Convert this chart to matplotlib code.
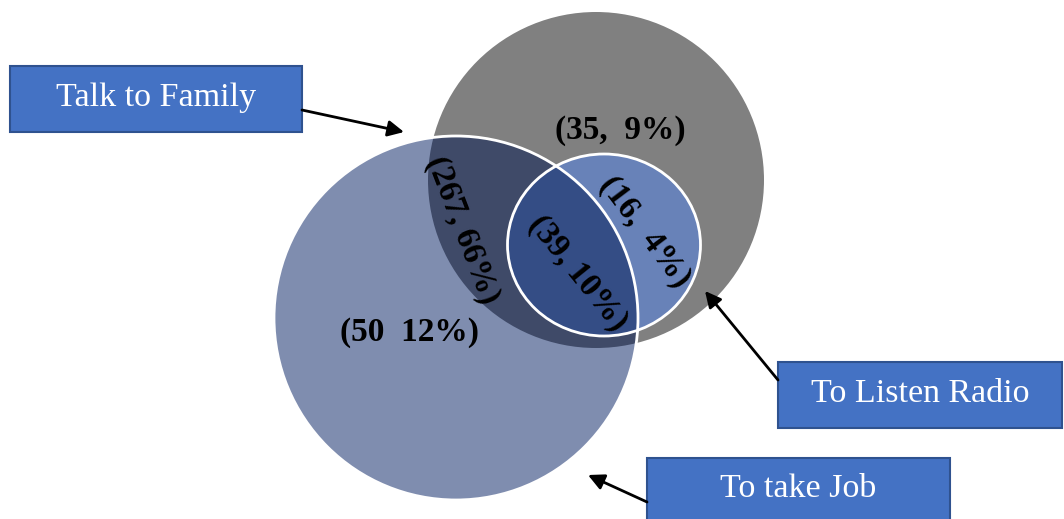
import matplotlib.pyplot as plt
from matplotlib.patches import Circle, Ellipse, Rectangle

plt.rcParams["font.family"] = ["Liberation Serif", "DejaVu Serif"]

# data
set_names = ["Talk to Family", "To Listen Radio", "To take Job"]
region_counts = [35, 16, 39, 267, 50]
region_pcts = [9, 4, 10, 66, 12]

# layout in pixel coordinates
family_c = (596, 180, 168)          # x, y, r
radio_c = (604, 245, 193, 182)      # x, y, w, h
job_c = (456, 318, 182)             # x, y, r

region_pos = [(620, 130, 0), (645, 232, -53), (578, 273, -51), (462, 230, -69), (410, 333, 0)]
region_fmt = ["({c},  {p}%)", "({c},  {p}%)", "({c}, {p}%)", "({c}, {p}%)", "({c}  {p}%)"]

boxes = {  # x0, y0, x1, y1, text y, arrow start, arrow tip
    "Talk to Family": (10, 66, 302, 132, 98, (302, 110), (404, 132)),
    "To Listen Radio": (778, 362, 1062, 428, 394, (778, 380), (705, 291)),
    "To take Job": (647, 458, 950, 540, 489, (647, 502), (588, 475)),
}

fig = plt.figure(figsize=(10.64, 5.19), dpi=100)
ax = fig.add_axes([0, 0, 1, 1])
ax.set_xlim(0, 1064)
ax.set_ylim(519, 0)
ax.set_aspect("equal")
ax.axis("off")

fam = Circle(family_c[:2], family_c[2], fc="#808080", ec="none", zorder=1)
ax.add_patch(fam)
job = Circle(job_c[:2], job_c[2], fc="#7F8DAF", ec="none", zorder=2)
ax.add_patch(job)
job_in_fam = Circle(job_c[:2], job_c[2], fc="#3F4A68", ec="none", zorder=3)
ax.add_patch(job_in_fam)
job_in_fam.set_clip_path(fam)
rad = Ellipse(radio_c[:2], radio_c[2], radio_c[3], fc="#6882B8", ec="none", zorder=4)
ax.add_patch(rad)
rad_in_job = Ellipse(radio_c[:2], radio_c[2], radio_c[3], fc="#344D85", ec="none", zorder=5)
ax.add_patch(rad_in_job)
rad_in_job.set_clip_path(job)

# white outlines
ax.add_patch(Circle(job_c[:2], job_c[2], fc="none", ec="white", lw=2, zorder=6))
ax.add_patch(Ellipse(radio_c[:2], radio_c[2], radio_c[3], fc="none", ec="white", lw=2, zorder=6))

for (x, y, rot), fmt, n, p in zip(region_pos, region_fmt, region_counts, region_pcts):
    ax.text(x, y, fmt.format(c=n, p=p), rotation=rot, rotation_mode="anchor",
            ha="center", va="center", fontsize=24, fontweight="bold",
            color="black", zorder=7)

for name in set_names:
    x0, y0, x1, y1, ty, start, tip = boxes[name]
    ax.add_patch(Rectangle((x0, y0), x1 - x0, y1 - y0, fc="#4472C4",
                           ec="#2F528F", lw=1.5, zorder=8))
    ax.text((x0 + x1) / 2, ty, name, ha="center", va="center",
            fontsize=24.5, color="white", zorder=9)
    ax.annotate("", xy=tip, xytext=start,
                arrowprops=dict(arrowstyle="-|>", color="black", lw=2,
                                mutation_scale=24, shrinkA=0, shrinkB=0),
                zorder=9)

plt.savefig("out.png", dpi=100)
